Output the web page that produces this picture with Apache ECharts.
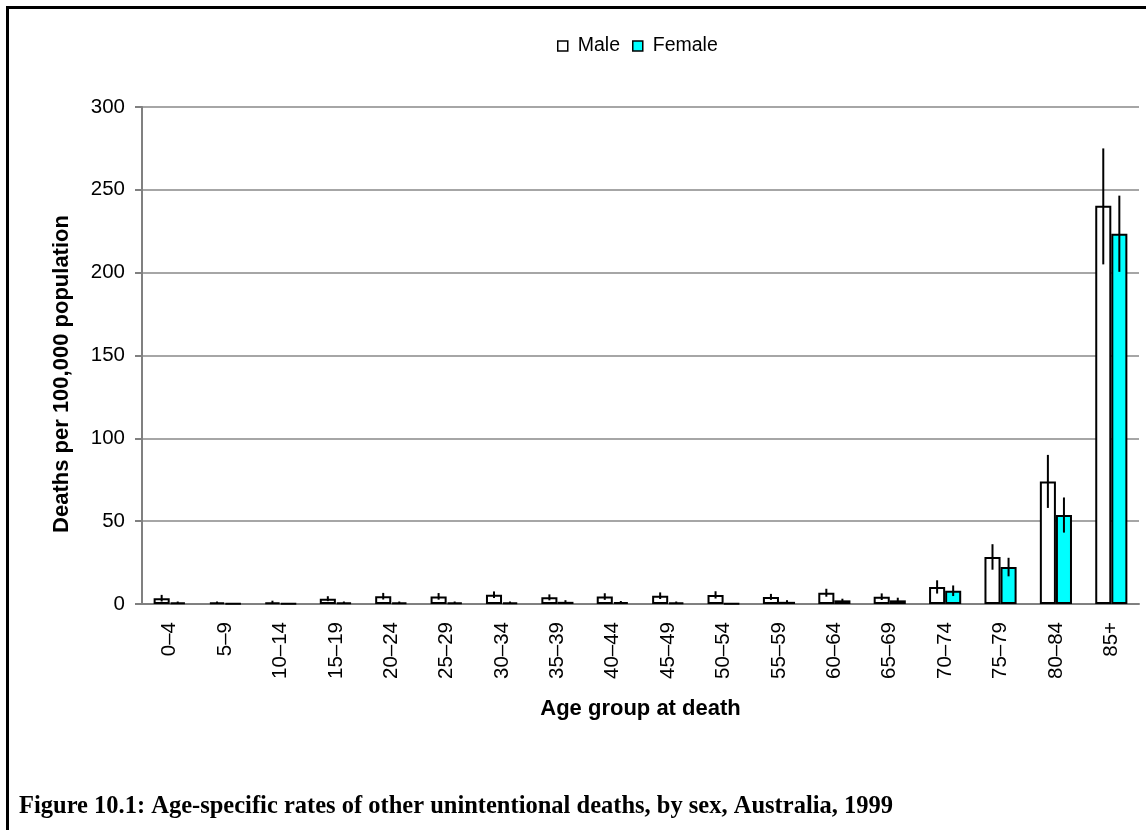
<!DOCTYPE html>
<html>
<head>
<meta charset="utf-8">
<script src="https://cdn.jsdelivr.net/npm/echarts@6/dist/echarts.min.js"></script>
<style>
  html, body { margin: 0; padding: 0; background: #fff; }
  #chart { width: 1146px; height: 830px; }
</style>
</head>
<body>
<div id="chart"></div>
<script>
// Age groups on the category axis
const ageGroups = ['0–4','5–9','10–14','15–19','20–24','25–29','30–34','35–39','40–44',
  '45–49','50–54','55–59','60–64','65–69','70–74','75–79','80–84','85+'];

// Deaths per 100,000 population
const maleRates   = [3.5, 1.0, 1.0, 3.2, 4.7, 4.6, 5.6, 4.0, 4.5, 5.0, 5.5, 4.3, 6.8, 4.4, 10.3, 28.4, 74.0, 240.4];
const femaleRates = [1.0, 0.3, 0.3, 1.0, 1.0, 1.0, 1.0, 1.3, 1.2, 1.0, 0.3, 1.3, 2.2, 2.2, 8.0, 22.3, 53.7, 223.5];

// 95% confidence limits
const maleLower   = [1.5, 0.5, 0.0, 1.7, 2.7, 2.6, 3.6, 2.2, 2.5, 3.0, 3.3, 2.5, 4.4, 2.4, 6.3, 20.7, 58.0, 205.0];
const maleUpper   = [5.5, 1.5, 2.0, 4.7, 6.7, 6.6, 7.6, 5.8, 6.5, 7.0, 7.7, 6.1, 9.2, 6.4, 14.3, 36.1, 90.0, 275.0];
const femaleLower = [0.5, 0.1, 0.1, 0.5, 0.5, 0.5, 0.5, 0.3, 0.6, 0.5, 0.1, 0.3, 1.2, 0.6, 4.8, 16.7, 43.1, 200.5];
const femaleUpper = [1.5, 0.5, 0.5, 1.5, 1.5, 1.5, 1.5, 2.3, 1.8, 1.5, 0.5, 2.3, 3.2, 3.8, 11.2, 27.9, 64.3, 246.5];

const yTicks = { min: 0, max: 300, interval: 50 };

const BAR_GAP_RATIO = 0.42;   // share of each band left empty

function errorSeries(name, lower, upper, side) {
  return {
    type: 'custom',
    name: name + ' CI',
    z: 5,
    silent: true,
    data: ageGroups.map((g, i) => [i, lower[i], upper[i]]),
    encode: { x: 0, y: [1, 2] },
    renderItem: function (params, api) {
      const band = api.size([1, 0])[0];
      const offset = side * band * (1 - BAR_GAP_RATIO) / 4;
      const lo = api.coord([api.value(0), api.value(1)]);
      const hi = api.coord([api.value(0), api.value(2)]);
      const x = lo[0] + offset;
      return {
        type: 'line',
        shape: { x1: x, y1: lo[1], x2: x, y2: hi[1] },
        style: { stroke: '#000', lineWidth: 2 }
      };
    }
  };
}

const chart = echarts.init(document.getElementById('chart'), null, { renderer: 'canvas' });

chart.setOption({
  animation: false,
  backgroundColor: '#fff',
  textStyle: { fontFamily: 'Liberation Sans, Arial, sans-serif' },
  title: {
    text: 'Figure 10.1: Age-specific rates of other unintentional deaths, by sex, Australia, 1999',
    left: 14,
    top: 789,
    textStyle: {
      fontFamily: 'Liberation Serif, serif',
      fontWeight: 'bold',
      fontSize: 24.5,
      color: '#000'
    }
  },
  graphic: [
    {
      type: 'polyline',
      shape: { points: [[7.5, 830], [7.5, 7.5], [1146, 7.5]] },
      style: { stroke: '#000', lineWidth: 3, fill: null }
    },
    {
      // value-axis title
      type: 'text',
      x: 62,
      y: 374,
      rotation: Math.PI / 2,
      style: {
        text: 'Deaths per 100,000 population',
        font: 'bold 22px Liberation Sans, Arial, sans-serif',
        fill: '#000',
        align: 'center',
        verticalAlign: 'middle'
      }
    }
  ],
  legend: {
    data: ['Male', 'Female'],
    top: 31,
    left: 552,
    itemWidth: 10,
    itemHeight: 10,
    itemGap: 12,
    icon: 'rect',
    textStyle: { fontSize: 19.5, color: '#000', padding: [0, 0, 0, 5] },
    itemStyle: { borderColor: '#000', borderWidth: 1.5 }
  },
  grid: { left: 142, right: 7, top: 107, bottom: 226, containLabel: false },
  xAxis: {
    type: 'category',
    data: ageGroups,
    name: 'Age group at death',
    nameLocation: 'middle',
    nameGap: 94,
    nameTextStyle: { fontSize: 22, fontWeight: 'bold', color: '#000' },
    axisLine: { lineStyle: { color: '#808080', width: 2 } },
    axisTick: { length: 7, lineStyle: { color: '#808080', width: 2 } },
    axisLabel: { rotate: 90, fontSize: 20.5, color: '#000', margin: 18 }
  },
  yAxis: {
    type: 'value',
    min: yTicks.min,
    max: yTicks.max,
    interval: yTicks.interval,
    axisLine: { show: true, lineStyle: { color: '#808080', width: 2 } },
    axisTick: { show: true, length: 7, lineStyle: { color: '#808080', width: 2 } },
    axisLabel: { fontSize: 20.5, color: '#000', margin: 17 },
    splitLine: { lineStyle: { color: '#a6a6a6', width: 2 } }
  },
  series: [
    {
      name: 'Male',
      type: 'bar',
      data: maleRates,
      barGap: '0%',
      barCategoryGap: (BAR_GAP_RATIO * 100) + '%',
      itemStyle: { color: '#ffffff', borderColor: '#000', borderWidth: 2 }
    },
    {
      name: 'Female',
      type: 'bar',
      data: femaleRates,
      barGap: '0%',
      barCategoryGap: (BAR_GAP_RATIO * 100) + '%',
      itemStyle: { color: '#00ffff', borderColor: '#000', borderWidth: 2 }
    },
    errorSeries('Male', maleLower, maleUpper, -1),
    errorSeries('Female', femaleLower, femaleUpper, 1)
  ]
});
</script>
</body>
</html>
